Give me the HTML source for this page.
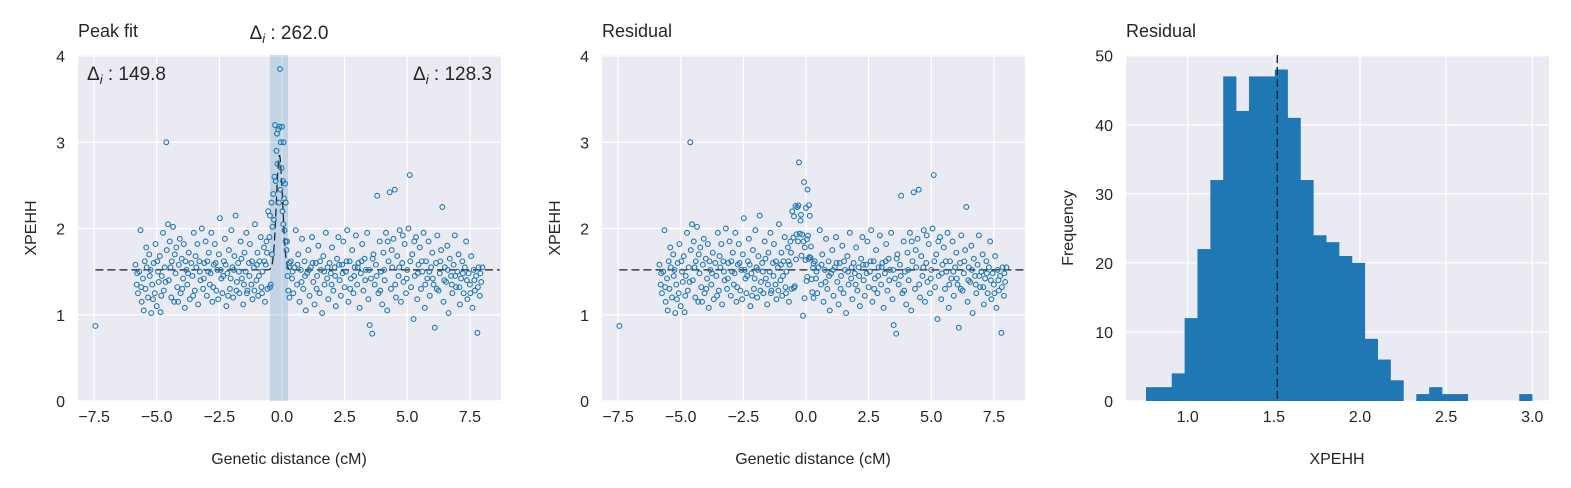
<!DOCTYPE html>
<html><head><meta charset="utf-8">
<style>
body{margin:0;background:#fff;}
svg{display:block;font-family:"Liberation Sans",Arial,sans-serif;}
</style></head>
<body>
<svg id="fig" width="1571" height="488" viewBox="0 0 1571 488" xmlns="http://www.w3.org/2000/svg"></svg>
<script>
const leftX=[-5.85,-5.8,-5.75,-5.7,-5.65,-5.6,-5.55,-5.52,-5.48,-5.45,-5.4,-5.35,-5.3,-5.28,-5.22,-5.18,-5.12,-5.08,-5.05,-5.0,-4.95,-4.92,-4.88,-4.85,-4.8,-4.75,-4.72,-4.68,-4.62,-4.6,-4.55,-4.52,-4.48,-4.42,-4.4,-4.35,-4.3,-4.25,-4.22,-4.18,-4.12,-4.08,-4.05,-4.0,-3.95,-3.92,-3.88,-3.82,-3.78,-3.72,-3.68,-3.62,-3.58,-3.52,-3.48,-3.42,-3.38,-3.35,-3.3,-3.25,-3.2,-3.15,-3.1,-3.05,-3.0,-2.95,-2.92,-2.88,-2.82,-2.78,-2.72,-2.68,-2.62,-2.58,-2.52,-2.48,-2.42,-2.38,-2.32,-2.28,-2.22,-2.18,-2.12,-2.08,-2.02,-1.98,-1.95,-1.9,-1.85,-1.8,-1.75,-1.7,-1.65,-1.6,-1.55,-1.5,-1.45,-1.42,-1.38,-1.32,-1.28,-1.22,-1.18,-1.12,-1.08,-1.02,-0.98,-0.95,-0.9,-0.85,-0.82,-0.78,-0.72,-0.68,-0.65,-0.62,
-5.78,-5.62,-5.42,-5.25,-5.15,-4.98,-4.82,-4.65,-4.45,-4.28,-4.15,-3.98,-3.85,-3.75,-3.55,-3.45,-3.28,-3.12,-2.98,-2.85,-2.75,-2.65,-2.55,-2.45,-2.35,-2.25,-2.15,-2.05,-1.92,-1.82,-1.72,-1.62,-1.52,-1.4,-1.3,-1.2,-1.1,-1.0,-0.92,-0.8,-0.7,-0.6,-0.58,-7.45];
const leftY=[1.58,1.35,1.25,1.5,1.98,1.15,1.42,1.05,1.62,1.3,1.55,1.2,1.7,1.45,1.02,1.35,1.6,1.25,1.82,1.1,1.5,1.38,1.68,1.03,1.45,1.95,1.28,1.55,3.0,1.75,2.05,1.4,1.85,1.2,1.62,2.02,1.15,1.48,1.78,1.32,1.58,1.88,1.25,1.65,1.42,1.82,1.08,1.52,1.35,1.72,1.18,1.6,1.45,1.95,1.28,1.55,1.82,1.12,1.62,1.4,2.0,1.3,1.6,1.85,1.22,1.5,1.72,1.35,1.95,1.15,1.58,1.82,1.28,1.52,1.7,2.12,1.42,1.25,1.62,1.88,1.1,1.48,1.75,1.3,1.98,1.55,1.2,1.68,2.15,1.38,1.6,1.25,1.85,1.42,1.12,1.72,1.5,1.95,1.28,1.6,1.82,1.35,1.18,1.55,2.05,1.4,1.72,1.22,1.62,1.9,1.32,1.5,1.78,1.15,1.58,1.85,
1.48,1.32,1.78,1.52,1.18,1.62,1.22,1.38,1.55,1.7,1.15,1.3,1.62,1.48,1.22,1.68,1.5,1.42,1.62,1.48,1.32,1.6,1.18,1.52,1.45,1.58,1.22,1.42,1.52,1.28,1.5,1.65,1.35,1.25,1.45,1.62,1.28,1.58,1.45,1.25,1.62,1.72,1.3,0.87];
const peakX=[-0.55,-0.5,-0.48,-0.45,-0.42,-0.4,-0.38,-0.35,-0.32,-0.3,-0.28,-0.25,-0.22,-0.2,-0.18,-0.15,-0.12,-0.1,-0.08,-0.06,-0.05,-0.02,0.0,0.02,0.04,0.05,0.06,0.08,0.1,0.12,0.14,0.15,0.18,0.2,0.22,0.25,0.28,0.3,-0.48,0.3];
const peakY=[2.2,1.9,2.15,1.35,2.3,1.7,2.02,2.4,2.1,2.6,3.2,2.55,2.9,3.1,2.75,3.15,2.3,3.18,3.85,2.45,3.0,2.7,3.18,2.2,2.55,2.05,3.0,2.35,1.98,2.52,1.85,2.3,1.75,1.85,1.45,1.28,1.55,1.2,1.32,1.6];
const rightX=[0.35,0.4,0.45,0.5,0.55,0.6,0.65,0.7,0.75,0.8,0.85,0.9,0.95,1.0,1.05,1.1,1.15,1.2,1.25,1.3,1.35,1.4,1.45,1.5,1.55,1.6,1.65,1.7,1.75,1.8,1.85,1.9,1.95,2.0,2.05,2.1,2.15,2.2,2.25,2.3,2.35,2.4,2.45,2.5,2.55,2.6,2.65,2.7,2.75,2.8,2.85,2.9,2.95,3.0,3.05,3.1,3.15,3.2,3.25,3.3,3.35,3.4,3.45,3.5,3.55,3.6,3.65,3.7,3.75,3.8,3.85,3.9,3.95,4.0,4.05,4.1,4.15,4.2,4.25,4.3,4.35,4.4,4.45,4.5,4.55,4.6,4.65,4.7,4.75,4.8,4.85,4.9,4.95,5.0,5.05,5.1,5.15,5.2,5.25,5.3,5.35,5.4,5.45,5.5,5.55,5.6,5.65,5.7,5.75,5.8,5.85,5.9,5.95,6.0,6.05,6.1,6.15,6.2,6.25,6.3,6.35,6.4,6.45,6.5,6.55,6.6,6.65,6.7,6.75,6.8,6.85,6.9,6.95,7.0,7.05,7.1,7.15,7.2,7.25,7.3,7.35,7.4,7.45,7.5,7.55,7.6,7.65,7.7,7.75,7.8,7.85,7.9,7.95,8.0,
0.42,0.62,0.78,0.92,1.08,1.22,1.38,1.52,1.68,1.82,1.98,2.12,2.28,2.42,2.58,2.72,2.88,3.02,3.18,3.32,3.48,3.62,3.78,3.92,4.08,4.22,4.38,4.52,4.68,4.82,4.98,5.12,5.28,5.42,5.58,5.72,5.88,6.02,6.18,6.32,6.48,6.62,6.78,6.92,7.08,7.22,7.38,7.52,7.68,7.82,7.92];
const rightY=[1.62,1.42,1.25,1.55,1.98,1.35,1.7,1.15,1.52,1.88,1.3,1.62,1.05,1.48,1.75,1.22,1.55,1.9,1.38,1.12,1.6,1.45,1.8,1.25,1.52,1.02,1.68,1.35,1.95,1.42,1.18,1.6,1.48,1.78,1.28,1.55,1.1,1.65,1.9,1.4,1.22,1.58,1.85,1.32,1.5,1.98,1.15,1.62,1.42,1.75,1.25,1.55,1.92,1.35,1.6,1.08,1.48,1.82,1.28,1.65,1.52,1.95,1.18,0.88,1.42,0.78,1.7,1.35,1.58,2.38,1.25,1.85,1.5,1.12,1.72,1.4,1.95,1.05,1.62,2.42,1.3,1.55,1.88,2.45,1.2,1.68,1.45,1.98,1.15,1.6,1.38,1.82,1.25,1.52,2.0,2.62,1.32,1.7,0.95,1.45,1.9,1.18,1.58,1.78,1.3,1.5,1.95,1.08,1.62,1.42,1.85,1.22,1.55,1.72,1.35,0.85,1.6,1.92,1.28,1.48,1.75,2.25,1.15,1.55,1.38,1.8,1.02,1.65,1.45,1.25,1.58,1.92,1.32,1.5,1.7,1.12,1.42,1.62,1.25,1.55,1.85,1.18,1.48,1.35,1.68,1.08,1.52,1.28,1.45,0.79,1.55,1.22,1.38,1.55,
1.5,1.58,1.38,1.45,1.52,1.6,1.3,1.62,1.5,1.55,1.35,1.45,1.58,1.48,1.62,1.3,1.45,1.55,1.62,1.4,1.52,1.65,1.45,1.28,1.52,1.85,1.75,1.35,1.55,1.92,1.42,1.62,1.85,1.48,1.62,1.35,1.5,1.42,1.3,1.62,1.4,1.52,1.35,1.45,1.32,1.48,1.4,1.25,1.4,1.32,1.48];
const baseline=1.52, peakAmp=1.33, peakCenter=-0.1, peakSigma=0.17;
const bandLo=-0.48, bandHi=0.24;
const histStart=0.758, histWidth=0.0747;
const histCounts=[2,2,4,12,22,32,47,42,47,47,48,41,32,24,23,21,20,9,6,3,0,1,2,1,1,0,0,0,0,1];
const histMean=1.52;
const xTicksDist=[-7.5,-5.0,-2.5,0.0,2.5,5.0,7.5];
const yTicksX=[0,1,2,3,4];
const xTicksHist=[1.0,1.5,2.0,2.5,3.0];
const yTicksHist=[0,10,20,30,40,50];

const NS="http://www.w3.org/2000/svg";
const svg=document.getElementById('fig');
function mk(tag,attrs,parent){const e=document.createElementNS(NS,tag);for(const k in attrs)e.setAttribute(k,attrs[k]);(parent||svg).appendChild(e);return e;}
function model(x){return baseline+peakAmp*Math.exp(-Math.pow((x-peakCenter)/peakSigma,2));}

const allX=leftX.concat(peakX,rightX), allY=leftY.concat(peakY,rightY);

function axesBox(left,name){
  const g=mk('g',{});
  
  
  mk('rect',{x:left,y:55,width:423,height:346,fill:'#eaeaf2'},g);
  return g;
}
function text(g,x,y,s,opts){const t=mk('text',Object.assign({x:x,y:y,fill:'#262626','font-size':16},opts||{}),g);t.textContent=s;return t;}

function scatterPanel(left,name,ys,withBand,title){
  const g=axesBox(left,name);
  const zero=left+204, ppu=25.05;
  const sx=v=>zero+v*ppu, sy=v=>401-v*86.25;
  xTicksDist.forEach(v=>{
    const l=mk('line',{x1:sx(v),x2:sx(v),y1:55,y2:401,stroke:'#fff','stroke-width':1.3},g);
    
    const t=text(g,sx(v),422,(v<0?'\u2212':'')+Math.abs(v).toFixed(1),{'text-anchor':'middle'});
    
  });
  yTicksX.forEach(v=>{
    mk('line',{x1:left,x2:left+423,y1:sy(v),y2:sy(v),stroke:'#fff','stroke-width':1.3},g);
    const t=text(g,left-13,sy(v)+6,String(v),{'text-anchor':'end'});
    
  });
  if(withBand){
    const b=mk('rect',{x:sx(bandLo),y:55,width:sx(bandHi)-sx(bandLo),height:346,fill:'#1f77b4','fill-opacity':0.2},g);
    
  }
  const pts=[];
  for(let x=-7.45;x<=8.7;x+=0.02){pts.push(sx(x).toFixed(1)+','+sy(withBand?model(x):baseline).toFixed(1));}
  const pl=mk('polyline',{points:pts.join(' '),fill:'none',stroke:'#1a1a1a','stroke-width':1.2,'stroke-dasharray':'8,4'},g);
  
  for(let i=0;i<allX.length;i++){
    const c=mk('circle',{cx:sx(allX[i]),cy:sy(ys[i]),r:2.4,fill:'none',stroke:'#1f77b4','stroke-width':1.1},g);
    
    
  }
  const t=text(g,left,37,title,{'font-size':18});
  
  const xl=text(g,left+211,464,'Genetic distance (cM)',{'text-anchor':'middle'});
  
  const yl=text(g,0,0,'XPEHH',{'text-anchor':'middle',transform:'translate('+(left-42)+',228) rotate(-90)'});
  
  return g;
}
const g1=scatterPanel(78,'peak-fit-panel',allY,true,'Peak fit');
const resY=allY.map((y,i)=>y-(model(allX[i])-baseline));
scatterPanel(602,'residual-scatter-panel',resY,false,'Residual');

function delta(g,x,y,val,anchor){
  const t=mk('text',{x:x,y:y,fill:'#262626','font-size':19,'text-anchor':anchor},g);
  t.innerHTML='\u0394<tspan font-size="13" font-style="italic" dy="4">i</tspan><tspan dy="-4"> : '+val+'</tspan>';
  
  
}
delta(g1,289,39,'262.0','middle');
delta(g1,87,80,'149.8','start');
delta(g1,492,80,'128.3','end');

(function(){
  const left=1126;
  const g=axesBox(left,'residual-histogram-panel');
  const sx=v=>1187.7+(v-1.0)*172.3, sy=v=>401-v*6.906;
  xTicksHist.forEach(v=>{
    mk('line',{x1:sx(v),x2:sx(v),y1:55,y2:401,stroke:'#fff','stroke-width':1.3},g);
    const t=text(g,sx(v),422,v.toFixed(1),{'text-anchor':'middle'});
    
  });
  yTicksHist.forEach(v=>{
    mk('line',{x1:left,x2:left+423,y1:sy(v),y2:sy(v),stroke:'#fff','stroke-width':1.3},g);
    const t=text(g,left-13,sy(v)+6,String(v),{'text-anchor':'end'});
    
  });
  histCounts.forEach((c,i)=>{
    if(!c)return;
    const x0=sx(histStart+i*histWidth), x1=sx(histStart+(i+1)*histWidth);
    const r=mk('rect',{x:x0,y:sy(c),width:x1-x0+0.3,height:sy(0)-sy(c),fill:'#1f77b4'},g);
    
    
  });
  const ml=mk('line',{x1:sx(histMean),x2:sx(histMean),y1:55,y2:401,stroke:'#1a1a1a','stroke-width':1.3,'stroke-dasharray':'8,4'},g);
  
  const t=text(g,left,37,'Residual',{'font-size':18});
  
  const xl=text(g,left+211,464,'XPEHH',{'text-anchor':'middle'});
  
  const yl=text(g,0,0,'Frequency',{'text-anchor':'middle',transform:'translate(1073,228) rotate(-90)'});
  
})();
</script>
</body></html>
